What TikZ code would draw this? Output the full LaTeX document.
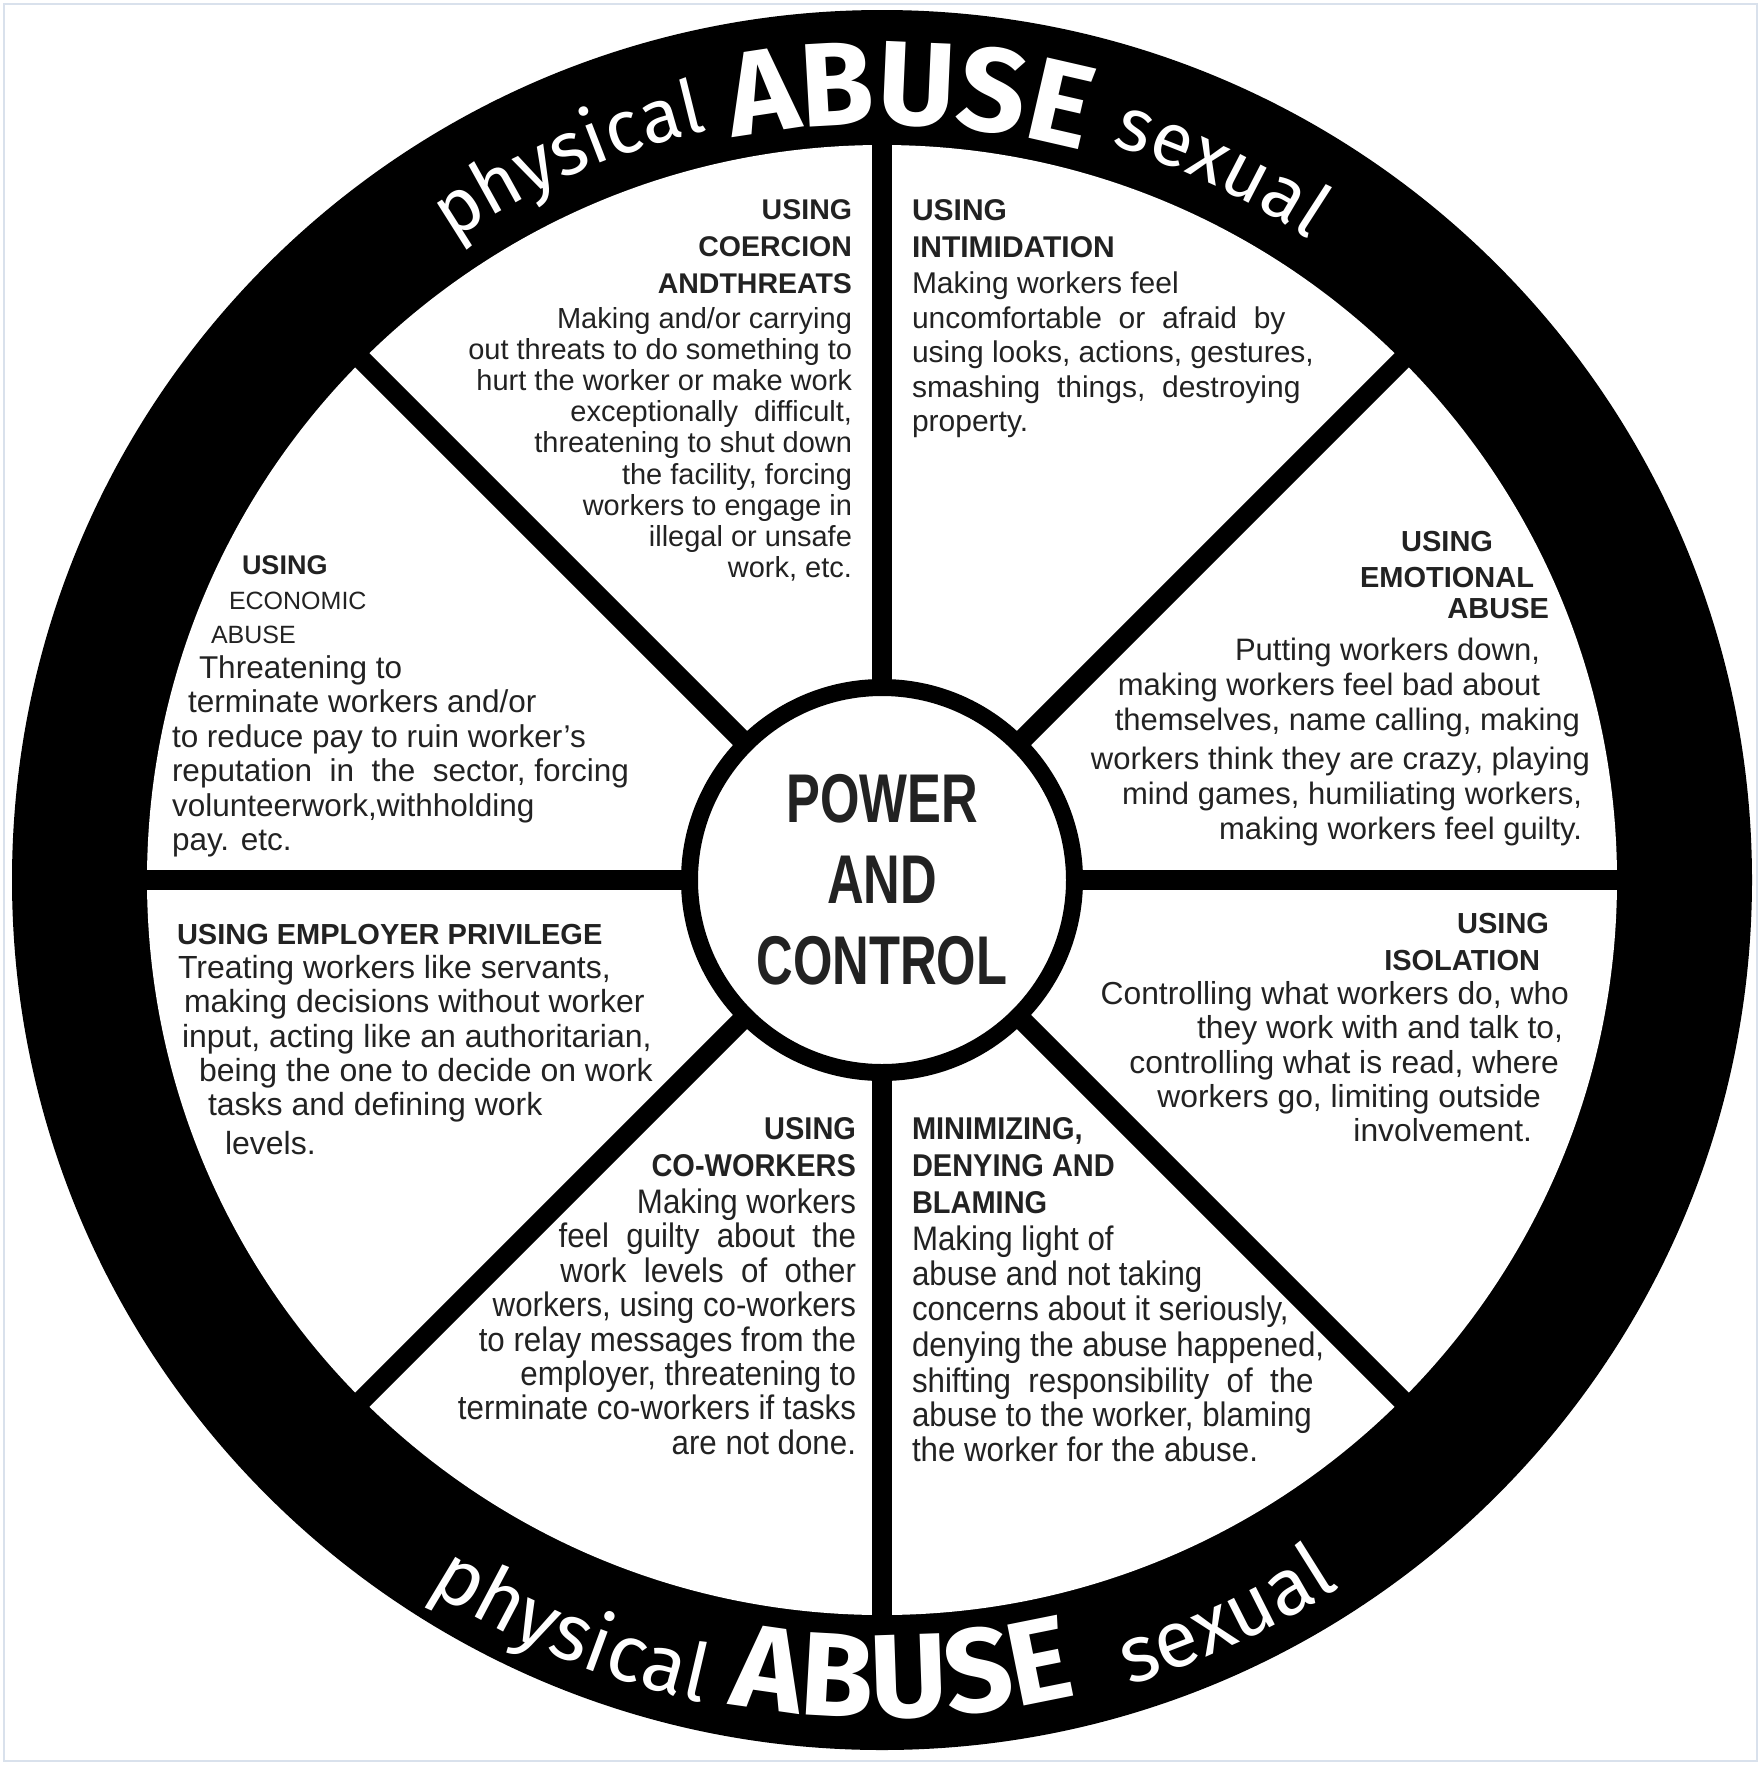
\documentclass[tikz,border=0pt]{standalone}
\usepackage{fontspec}
\setmainfont{Liberation Sans}
\newfontfamily\narrowfont[FakeStretch=0.92]{Liberation Sans}
\newfontfamily\hubfont[FakeStretch=0.735]{Liberation Sans}
\newfontfamily\ringfont{Fira Sans}
\newfontfamily\ringboldfont{Fira Sans}
\usetikzlibrary{decorations.text}
\definecolor{framecol}{HTML}{D9E1EC}
\definecolor{ink}{HTML}{222222}
\newcommand\ringsmalltop{\ringfont\fontsize{75}{75}\selectfont}
\newcommand\ringsmallbot{\ringfont\fontsize{80}{80}\selectfont}
\newcommand\ringbig{\ringboldfont\bfseries\fontsize{119}{119}\selectfont}
\begin{document}
\begin{tikzpicture}[x=1pt,y=1pt,
  blk/.style={inner sep=0pt, outer sep=0pt, text=ink},
  spoke/.style={line width=20pt, black},
  ringtxt/.style={decorate, decoration={text along path, text color=white, text align=center, text={#1}}}
]
\useasboundingbox (0,0) rectangle (1761,-1765);
\fill[white] (0,0) rectangle (1761,-1765);
\draw[framecol, line width=2pt] (4,-4) rectangle (1757,-1761);
\coordinate (C) at (882,-880);
% rim
\fill[black] (C) circle[radius=870];
\fill[white] (C) circle[radius=735];
% spokes
\foreach \a in {0,45,...,315}{
  \path (C) ++(\a:745) coordinate (e\a);
  \draw[spoke] (C) -- (e\a);
}
% hub
\node[circle, draw=black, line width=17pt, fill=white, minimum size=385pt, inner sep=0pt,
      text=ink, align=center, font=\hubfont\bfseries\fontsize{69}{81}\selectfont] (hub) at (C) {POWER\\AND\\CONTROL};
% ring texts top
\path[ringtxt={|\ringsmalltop|physical}] (C) ++(143.5:770) arc[start angle=143.5, end angle=83.5, radius=770];
\path[ringtxt={|\ringbig|ABUSE}] (C) ++(118:756) arc[start angle=118, end angle=58, radius=756];
\path[ringtxt={|\ringsmalltop|sexual}] (C) ++(94.5:770) arc[start angle=94.5, end angle=34.5, radius=770];
% ring texts bottom
\path[ringtxt={|\ringsmallbot|physical}] (C) ++(217.5:842) arc[start angle=217.5, end angle=277.5, radius=842];
\path[ringtxt={|\ringbig|ABUSE}] (C) ++(241.5:838) arc[start angle=241.5, end angle=301.5, radius=838];
\path[ringtxt={|\ringsmallbot|sexual}] (C) ++(265:842) arc[start angle=265, end angle=325, radius=842];
% coercion
\node[blk, anchor=north east, align=right, font=\fontsize{29}{31.2}\selectfont] (coerc) at (852,-200)
 {{\bfseries\fontsize{28.5}{31.2}\selectfont USING}\\[5.4pt] {\bfseries\fontsize{28.5}{31.2}\selectfont COERCION}\\[5.4pt]
  {\bfseries\fontsize{28.5}{31.2}\selectfont ANDTHREATS}\\[3.8pt]
  Making and/or carrying\\ out threats to do something to\\ hurt the worker or make work\\
  exceptionally\ \ difficult,\\ threatening to shut down\\ the facility, forcing\\
  workers to engage in\\ illegal or unsafe\\ work, etc.};
% intimidation
\node[blk, anchor=north west, align=left, font=\fontsize{30}{34.5}\selectfont] (intim) at (912,-200)
 {\textbf{USING}\\[2.5pt] \textbf{INTIMIDATION}\\[1.5pt] Making workers feel\\
  uncomfortable\ \ or\ \ afraid\ \ by\\ using looks, actions, gestures,\\ smashing\ \ things,\ \ destroying\\ property.};
% economic
\node[blk, anchor=north west, align=left, font=\fontsize{31.5}{34.5}\selectfont] (econ) at (172,-556)
 {\kern70pt{\bfseries\fontsize{27}{34.5}\selectfont USING}\\
  \kern57pt{\fontsize{25}{34.5}\selectfont ECONOMIC}\\
  \kern39pt{\fontsize{25}{34.5}\selectfont ABUSE}\\
  \kern27pt Threatening to\\ \kern16pt terminate workers and/or\\ to reduce pay to ruin worker's\\
  reputation\ \ in\ \ the\ \ sector,\ forcing\\ volunteerwork,withholding\\ pay. etc.};
% emotional
\node[blk, anchor=north east, align=right, font=\fontsize{31}{35}\selectfont] (emot) at (1590,-531)
 {{\bfseries\fontsize{29}{35}\selectfont USING}\kern97pt\\[1pt]
  {\bfseries\fontsize{29}{35}\selectfont EMOTIONAL}\kern56pt\\[-3.5pt]
  {\bfseries\fontsize{29}{35}\selectfont ABUSE}\kern41pt\\[6.7pt]
  Putting workers down,\kern50pt\\ making workers feel bad about\kern50pt\\
  themselves, name calling, making\kern10pt\\[4.4pt] workers think they are crazy, playing\\
  mind games, humiliating workers,\kern8pt\\ making workers feel guilty.\kern8pt};
% employer privilege
\node[blk, anchor=north west, align=left, font=\fontsize{32}{34.3}\selectfont] (empl) at (177,-924)
 {{\bfseries\fontsize{29}{34.3}\selectfont USING EMPLOYER PRIVILEGE}\\
  \kern1pt Treating workers like servants,\\ \kern7pt making decisions without worker\\
  \kern5pt input, acting like an authoritarian,\\ \kern22pt being the one to decide on work\\
  \kern31pt tasks and defining work\\[4pt] \kern48pt levels.};
% isolation
\node[blk, anchor=north east, align=right, font=\fontsize{31.8}{34.3}\selectfont] (isol) at (1569,-913)
 {{\bfseries\fontsize{29}{34.3}\selectfont USING}\kern20pt\\[2.7pt]
  {\bfseries\fontsize{29}{34.3}\selectfont ISOLATION}\kern29pt\\
  Controlling what workers do, who\\ they work with and talk to,\kern6pt\\
  controlling what is read, where\kern10pt\\ workers go, limiting outside\kern28pt\\
  involvement.\kern37pt};
% co-workers
\node[blk, anchor=north east, align=right, font=\narrowfont\fontsize{34}{34.4}\selectfont] (cowk) at (856,-1117)
 {{\bfseries\fontsize{31.5}{34.4}\selectfont USING}\\[2.8pt]
  {\bfseries\fontsize{31.5}{34.4}\selectfont CO-WORKERS}\\[2.8pt]
  Making workers\\ feel\ \ guilty\ \ about\ \ the\\ work\ \ levels\ \ of\ \ other\\
  workers, using co-workers\\ to relay messages from the\\ employer, threatening to\\
  terminate co-workers if tasks\\ are not done.};
% minimizing
\node[blk, anchor=north west, align=left, font=\narrowfont\fontsize{34}{35}\selectfont] (minim) at (912,-1117)
 {{\bfseries\fontsize{31.5}{35}\selectfont MINIMIZING,}\\[2.2pt]
  {\bfseries\fontsize{31.5}{35}\selectfont DENYING AND}\\[2.2pt]
  {\bfseries\fontsize{31.5}{35}\selectfont BLAMING}\\[2.2pt]
  Making light of\\ abuse and not taking\\ concerns about it seriously,\\[1pt]
  denying the abuse happened,\\[1pt] shifting\ \ responsibility\ \ of\ \ the\\[-1pt]
  abuse to the worker, blaming\\ the worker for the abuse.};
\end{tikzpicture}
\end{document}
